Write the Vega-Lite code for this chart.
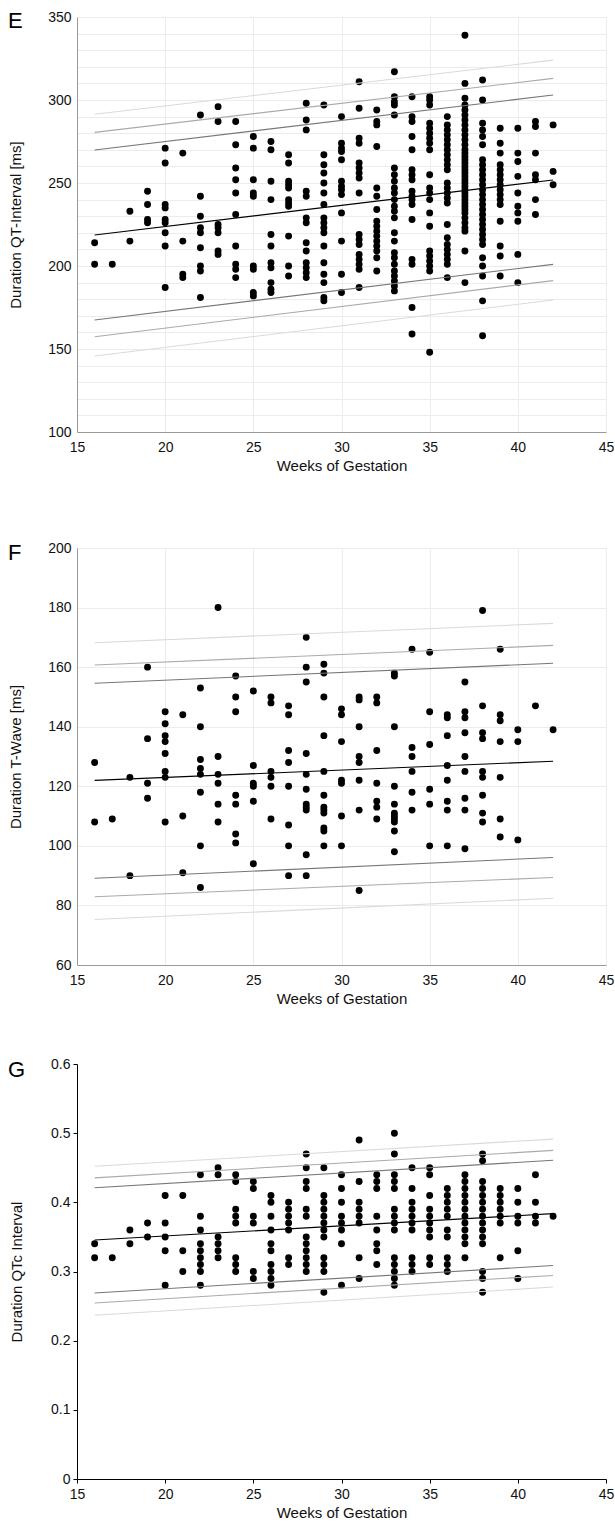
{
"$schema":"https://vega.github.io/schema/vega-lite/v6.json",
"padding":{"left":8,"top":9,"right":0,"bottom":0},
"background":"#ffffff",
"config":{"view":{"stroke":null},"font":"Liberation Sans",
 "axis":{"labelFont":"Liberation Sans","titleFont":"Liberation Sans","labelFontSize":14,"titleFontSize":15,"titleFontWeight":"normal","labelColor":"#111","titleColor":"#111","labelOverlap":false,"labelFlush":false}},
"datasets":{
"qt":[
{"w":16,"v":214},{"w":16,"v":201},{"w":17,"v":201},{"w":18,"v":233},{"w":18,"v":215},
{"w":19,"v":245},{"w":19,"v":237},{"w":19,"v":228},{"w":19,"v":226},
{"w":20,"v":271},{"w":20,"v":262},{"w":20,"v":237},{"w":20,"v":235},{"w":20,"v":228},{"w":20,"v":226},{"w":20,"v":220},{"w":20,"v":212},{"w":20,"v":187},
{"w":21,"v":268},{"w":21,"v":215},{"w":21,"v":195},{"w":21,"v":193},
{"w":22,"v":291},{"w":22,"v":242},{"w":22,"v":230},{"w":22,"v":223},{"w":22,"v":220},{"w":22,"v":211},{"w":22,"v":200},{"w":22,"v":197},{"w":22,"v":181},
{"w":23,"v":296},{"w":23,"v":287},{"w":23,"v":225},{"w":23,"v":223},{"w":23,"v":220},{"w":23,"v":209},{"w":23,"v":207},
{"w":24,"v":287},{"w":24,"v":273},{"w":24,"v":259},{"w":24,"v":252},{"w":24,"v":244},{"w":24,"v":231},{"w":24,"v":212},{"w":24,"v":201},{"w":24,"v":198},{"w":24,"v":193},
{"w":25,"v":278},{"w":25,"v":271},{"w":25,"v":252},{"w":25,"v":244},{"w":25,"v":242},{"w":25,"v":200},{"w":25,"v":198},{"w":25,"v":184},{"w":25,"v":182},
{"w":26,"v":275},{"w":26,"v":270},{"w":26,"v":251},{"w":26,"v":240},{"w":26,"v":219},{"w":26,"v":212},{"w":26,"v":202},{"w":26,"v":199},{"w":26,"v":190},{"w":26,"v":186},{"w":26,"v":184},
{"w":27,"v":267},{"w":27,"v":262},{"w":27,"v":251},{"w":27,"v":249},{"w":27,"v":247},{"w":27,"v":240},{"w":27,"v":238},{"w":27,"v":236},{"w":27,"v":218},{"w":27,"v":200},{"w":27,"v":194},
{"w":28,"v":298},{"w":28,"v":288},{"w":28,"v":282},{"w":28,"v":245},{"w":28,"v":242},{"w":28,"v":229},{"w":28,"v":226},{"w":28,"v":214},{"w":28,"v":209},{"w":28,"v":202},{"w":28,"v":199},{"w":28,"v":196},{"w":28,"v":193},
{"w":29,"v":297},{"w":29,"v":267},{"w":29,"v":261},{"w":29,"v":256},{"w":29,"v":250},{"w":29,"v":244},{"w":29,"v":237},{"w":29,"v":229},{"w":29,"v":226},{"w":29,"v":223},{"w":29,"v":220},{"w":29,"v":212},{"w":29,"v":202},{"w":29,"v":195},{"w":29,"v":190},{"w":29,"v":181},{"w":29,"v":179},
{"w":30,"v":290},{"w":30,"v":274},{"w":30,"v":271},{"w":30,"v":269},{"w":30,"v":264},{"w":30,"v":251},{"w":30,"v":248},{"w":30,"v":246},{"w":30,"v":243},{"w":30,"v":232},{"w":30,"v":215},{"w":30,"v":195},{"w":30,"v":184},
{"w":31,"v":311},{"w":31,"v":295},{"w":31,"v":277},{"w":31,"v":274},{"w":31,"v":262},{"w":31,"v":259},{"w":31,"v":256},{"w":31,"v":253},{"w":31,"v":244},{"w":31,"v":219},{"w":31,"v":216},{"w":31,"v":213},{"w":31,"v":207},{"w":31,"v":204},{"w":31,"v":201},{"w":31,"v":198},{"w":31,"v":187},
{"w":32,"v":294},{"w":32,"v":287},{"w":32,"v":285},{"w":32,"v":272},{"w":32,"v":247},{"w":32,"v":242},{"w":32,"v":234},{"w":32,"v":227},{"w":32,"v":224},{"w":32,"v":221},{"w":32,"v":218},{"w":32,"v":215},{"w":32,"v":212},{"w":32,"v":209},{"w":32,"v":205},{"w":32,"v":197},
{"w":33,"v":317},{"w":33,"v":302},{"w":33,"v":299},{"w":33,"v":297},{"w":33,"v":291},{"w":33,"v":259},{"w":33,"v":255},{"w":33,"v":251},{"w":33,"v":247},{"w":33,"v":244},{"w":33,"v":240},{"w":33,"v":236},{"w":33,"v":233},{"w":33,"v":229},{"w":33,"v":220},{"w":33,"v":215},{"w":33,"v":208},{"w":33,"v":205},{"w":33,"v":201},{"w":33,"v":197},{"w":33,"v":194},{"w":33,"v":191},{"w":33,"v":188},{"w":33,"v":185},
{"w":34,"v":302},{"w":34,"v":290},{"w":34,"v":287},{"w":34,"v":278},{"w":34,"v":270},{"w":34,"v":258},{"w":34,"v":255},{"w":34,"v":252},{"w":34,"v":245},{"w":34,"v":242},{"w":34,"v":240},{"w":34,"v":237},{"w":34,"v":228},{"w":34,"v":204},{"w":34,"v":201},{"w":34,"v":175},{"w":34,"v":159},
{"w":35,"v":302},{"w":35,"v":300},{"w":35,"v":297},{"w":35,"v":286},{"w":35,"v":283},{"w":35,"v":280},{"w":35,"v":277},{"w":35,"v":274},{"w":35,"v":270},{"w":35,"v":255},{"w":35,"v":247},{"w":35,"v":244},{"w":35,"v":240},{"w":35,"v":232},{"w":35,"v":224},{"w":35,"v":209},{"w":35,"v":206},{"w":35,"v":203},{"w":35,"v":200},{"w":35,"v":197},{"w":35,"v":148},
{"w":36,"v":290},{"w":36,"v":285},{"w":36,"v":282},{"w":36,"v":279},{"w":36,"v":276},{"w":36,"v":273},{"w":36,"v":270},{"w":36,"v":267},{"w":36,"v":264},{"w":36,"v":261},{"w":36,"v":258},{"w":36,"v":250},{"w":36,"v":247},{"w":36,"v":244},{"w":36,"v":241},{"w":36,"v":238},{"w":36,"v":225},{"w":36,"v":217},{"w":36,"v":213},{"w":36,"v":210},{"w":36,"v":207},{"w":36,"v":204},{"w":36,"v":201},{"w":36,"v":193},
{"w":37,"v":339},{"w":37,"v":310},{"w":37,"v":301},{"w":37,"v":297},{"w":37,"v":294},{"w":37,"v":291},{"w":37,"v":288},{"w":37,"v":285},{"w":37,"v":282},{"w":37,"v":279},{"w":37,"v":276},{"w":37,"v":273},{"w":37,"v":270},{"w":37,"v":268},{"w":37,"v":266},{"w":37,"v":264},{"w":37,"v":262},{"w":37,"v":260},{"w":37,"v":258},{"w":37,"v":256},{"w":37,"v":254},{"w":37,"v":252},{"w":37,"v":250},{"w":37,"v":248},{"w":37,"v":246},{"w":37,"v":244},{"w":37,"v":242},{"w":37,"v":240},{"w":37,"v":238},{"w":37,"v":236},{"w":37,"v":234},{"w":37,"v":232},{"w":37,"v":229},{"w":37,"v":226},{"w":37,"v":223},{"w":37,"v":221},{"w":37,"v":209},{"w":37,"v":190},
{"w":38,"v":312},{"w":38,"v":300},{"w":38,"v":286},{"w":38,"v":282},{"w":38,"v":278},{"w":38,"v":273},{"w":38,"v":264},{"w":38,"v":261},{"w":38,"v":258},{"w":38,"v":255},{"w":38,"v":252},{"w":38,"v":249},{"w":38,"v":246},{"w":38,"v":243},{"w":38,"v":240},{"w":38,"v":237},{"w":38,"v":234},{"w":38,"v":231},{"w":38,"v":228},{"w":38,"v":225},{"w":38,"v":222},{"w":38,"v":219},{"w":38,"v":216},{"w":38,"v":213},{"w":38,"v":205},{"w":38,"v":200},{"w":38,"v":194},{"w":38,"v":179},{"w":38,"v":158},
{"w":39,"v":283},{"w":39,"v":274},{"w":39,"v":268},{"w":39,"v":261},{"w":39,"v":258},{"w":39,"v":255},{"w":39,"v":252},{"w":39,"v":249},{"w":39,"v":246},{"w":39,"v":243},{"w":39,"v":240},{"w":39,"v":237},{"w":39,"v":227},{"w":39,"v":212},{"w":39,"v":206},{"w":39,"v":194},
{"w":40,"v":283},{"w":40,"v":268},{"w":40,"v":263},{"w":40,"v":254},{"w":40,"v":244},{"w":40,"v":236},{"w":40,"v":232},{"w":40,"v":227},{"w":40,"v":207},{"w":40,"v":190},
{"w":41,"v":287},{"w":41,"v":284},{"w":41,"v":268},{"w":41,"v":255},{"w":41,"v":252},{"w":41,"v":240},{"w":41,"v":231},
{"w":42,"v":285},{"w":42,"v":257},{"w":42,"v":249}
],
"tw":[
{"w":16,"v":128},{"w":16,"v":108},{"w":17,"v":109},{"w":18,"v":123},{"w":18,"v":90},
{"w":19,"v":160},{"w":19,"v":136},{"w":19,"v":121},{"w":19,"v":116},
{"w":20,"v":145},{"w":20,"v":141},{"w":20,"v":137},{"w":20,"v":135},{"w":20,"v":131},{"w":20,"v":125},{"w":20,"v":123},{"w":20,"v":108},
{"w":21,"v":144},{"w":21,"v":110},{"w":21,"v":91},
{"w":22,"v":153},{"w":22,"v":140},{"w":22,"v":129},{"w":22,"v":126},{"w":22,"v":124},{"w":22,"v":118},{"w":22,"v":100},{"w":22,"v":86},
{"w":23,"v":180},{"w":23,"v":130},{"w":23,"v":124},{"w":23,"v":121},{"w":23,"v":114},{"w":23,"v":108},
{"w":24,"v":157},{"w":24,"v":150},{"w":24,"v":145},{"w":24,"v":117},{"w":24,"v":114},{"w":24,"v":104},{"w":24,"v":101},
{"w":25,"v":152},{"w":25,"v":127},{"w":25,"v":121},{"w":25,"v":120},{"w":25,"v":115},{"w":25,"v":94},
{"w":26,"v":150},{"w":26,"v":148},{"w":26,"v":125},{"w":26,"v":123},{"w":26,"v":120},{"w":26,"v":109},
{"w":27,"v":147},{"w":27,"v":144},{"w":27,"v":132},{"w":27,"v":128},{"w":27,"v":120},{"w":27,"v":107},{"w":27,"v":100},{"w":27,"v":90},
{"w":28,"v":170},{"w":28,"v":160},{"w":28,"v":155},{"w":28,"v":131},{"w":28,"v":124},{"w":28,"v":119},{"w":28,"v":114},{"w":28,"v":113},{"w":28,"v":112},{"w":28,"v":97},{"w":28,"v":90},
{"w":29,"v":161},{"w":29,"v":158},{"w":29,"v":150},{"w":29,"v":137},{"w":29,"v":125},{"w":29,"v":117},{"w":29,"v":113},{"w":29,"v":112},{"w":29,"v":111},{"w":29,"v":106},{"w":29,"v":105},{"w":29,"v":100},
{"w":30,"v":146},{"w":30,"v":144},{"w":30,"v":135},{"w":30,"v":122},{"w":30,"v":121},{"w":30,"v":110},{"w":30,"v":100},
{"w":31,"v":150},{"w":31,"v":149},{"w":31,"v":140},{"w":31,"v":130},{"w":31,"v":128},{"w":31,"v":122},{"w":31,"v":112},{"w":31,"v":85},
{"w":32,"v":150},{"w":32,"v":148},{"w":32,"v":132},{"w":32,"v":121},{"w":32,"v":115},{"w":32,"v":113},{"w":32,"v":109},
{"w":33,"v":158},{"w":33,"v":157},{"w":33,"v":140},{"w":33,"v":120},{"w":33,"v":114},{"w":33,"v":111},{"w":33,"v":110},{"w":33,"v":109},{"w":33,"v":108},{"w":33,"v":105},{"w":33,"v":98},
{"w":34,"v":166},{"w":34,"v":133},{"w":34,"v":130},{"w":34,"v":125},{"w":34,"v":118},{"w":34,"v":112},
{"w":35,"v":165},{"w":35,"v":145},{"w":35,"v":134},{"w":35,"v":119},{"w":35,"v":114},{"w":35,"v":100},
{"w":36,"v":144},{"w":36,"v":143},{"w":36,"v":137},{"w":36,"v":127},{"w":36,"v":122},{"w":36,"v":115},{"w":36,"v":112},{"w":36,"v":100},
{"w":37,"v":155},{"w":37,"v":145},{"w":37,"v":143},{"w":37,"v":138},{"w":37,"v":130},{"w":37,"v":125},{"w":37,"v":116},{"w":37,"v":112},{"w":37,"v":99},
{"w":38,"v":179},{"w":38,"v":147},{"w":38,"v":138},{"w":38,"v":136},{"w":38,"v":125},{"w":38,"v":123},{"w":38,"v":117},{"w":38,"v":111},{"w":38,"v":108},
{"w":39,"v":166},{"w":39,"v":144},{"w":39,"v":142},{"w":39,"v":135},{"w":39,"v":123},{"w":39,"v":109},{"w":39,"v":103},
{"w":40,"v":139},{"w":40,"v":135},{"w":40,"v":102},{"w":41,"v":147},{"w":42,"v":139}
],
"qtc":[
{"w":16,"v":0.34},{"w":16,"v":0.32},{"w":17,"v":0.32},{"w":18,"v":0.36},{"w":18,"v":0.34},{"w":19,"v":0.37},{"w":19,"v":0.35},
{"w":20,"v":0.41},{"w":20,"v":0.37},{"w":20,"v":0.35},{"w":20,"v":0.33},{"w":20,"v":0.28},
{"w":21,"v":0.41},{"w":21,"v":0.33},{"w":21,"v":0.30},
{"w":22,"v":0.44},{"w":22,"v":0.38},{"w":22,"v":0.36},{"w":22,"v":0.34},{"w":22,"v":0.33},{"w":22,"v":0.32},{"w":22,"v":0.31},{"w":22,"v":0.30},{"w":22,"v":0.28},
{"w":23,"v":0.45},{"w":23,"v":0.44},{"w":23,"v":0.35},{"w":23,"v":0.34},{"w":23,"v":0.33},{"w":23,"v":0.32},
{"w":24,"v":0.44},{"w":24,"v":0.43},{"w":24,"v":0.39},{"w":24,"v":0.38},{"w":24,"v":0.37},{"w":24,"v":0.32},{"w":24,"v":0.31},{"w":24,"v":0.30},
{"w":25,"v":0.43},{"w":25,"v":0.42},{"w":25,"v":0.38},{"w":25,"v":0.37},{"w":25,"v":0.30},{"w":25,"v":0.29},
{"w":26,"v":0.41},{"w":26,"v":0.40},{"w":26,"v":0.38},{"w":26,"v":0.36},{"w":26,"v":0.34},{"w":26,"v":0.33},{"w":26,"v":0.31},{"w":26,"v":0.30},{"w":26,"v":0.29},{"w":26,"v":0.28},
{"w":27,"v":0.40},{"w":27,"v":0.39},{"w":27,"v":0.38},{"w":27,"v":0.37},{"w":27,"v":0.36},{"w":27,"v":0.32},{"w":27,"v":0.31},
{"w":28,"v":0.47},{"w":28,"v":0.45},{"w":28,"v":0.43},{"w":28,"v":0.42},{"w":28,"v":0.39},{"w":28,"v":0.38},{"w":28,"v":0.35},{"w":28,"v":0.34},{"w":28,"v":0.33},{"w":28,"v":0.32},{"w":28,"v":0.31},{"w":28,"v":0.30},
{"w":29,"v":0.45},{"w":29,"v":0.41},{"w":29,"v":0.40},{"w":29,"v":0.39},{"w":29,"v":0.38},{"w":29,"v":0.37},{"w":29,"v":0.36},{"w":29,"v":0.35},{"w":29,"v":0.32},{"w":29,"v":0.31},{"w":29,"v":0.30},{"w":29,"v":0.27},
{"w":30,"v":0.44},{"w":30,"v":0.42},{"w":30,"v":0.40},{"w":30,"v":0.38},{"w":30,"v":0.37},{"w":30,"v":0.36},{"w":30,"v":0.34},{"w":30,"v":0.28},
{"w":31,"v":0.49},{"w":31,"v":0.43},{"w":31,"v":0.40},{"w":31,"v":0.39},{"w":31,"v":0.38},{"w":31,"v":0.37},{"w":31,"v":0.32},{"w":31,"v":0.29},
{"w":32,"v":0.44},{"w":32,"v":0.43},{"w":32,"v":0.42},{"w":32,"v":0.38},{"w":32,"v":0.36},{"w":32,"v":0.34},{"w":32,"v":0.33},{"w":32,"v":0.31},
{"w":33,"v":0.50},{"w":33,"v":0.47},{"w":33,"v":0.44},{"w":33,"v":0.43},{"w":33,"v":0.42},{"w":33,"v":0.39},{"w":33,"v":0.38},{"w":33,"v":0.37},{"w":33,"v":0.36},{"w":33,"v":0.32},{"w":33,"v":0.31},{"w":33,"v":0.30},{"w":33,"v":0.29},{"w":33,"v":0.28},
{"w":34,"v":0.45},{"w":34,"v":0.42},{"w":34,"v":0.40},{"w":34,"v":0.39},{"w":34,"v":0.38},{"w":34,"v":0.37},{"w":34,"v":0.36},{"w":34,"v":0.32},{"w":34,"v":0.31},{"w":34,"v":0.30},
{"w":35,"v":0.45},{"w":35,"v":0.44},{"w":35,"v":0.41},{"w":35,"v":0.39},{"w":35,"v":0.38},{"w":35,"v":0.37},{"w":35,"v":0.36},{"w":35,"v":0.35},{"w":35,"v":0.32},{"w":35,"v":0.31},
{"w":36,"v":0.42},{"w":36,"v":0.41},{"w":36,"v":0.40},{"w":36,"v":0.39},{"w":36,"v":0.38},{"w":36,"v":0.36},{"w":36,"v":0.35},{"w":36,"v":0.32},{"w":36,"v":0.31},{"w":36,"v":0.30},
{"w":37,"v":0.44},{"w":37,"v":0.43},{"w":37,"v":0.42},{"w":37,"v":0.41},{"w":37,"v":0.40},{"w":37,"v":0.39},{"w":37,"v":0.38},{"w":37,"v":0.37},{"w":37,"v":0.36},{"w":37,"v":0.35},{"w":37,"v":0.34},{"w":37,"v":0.32},
{"w":38,"v":0.47},{"w":38,"v":0.46},{"w":38,"v":0.43},{"w":38,"v":0.42},{"w":38,"v":0.41},{"w":38,"v":0.40},{"w":38,"v":0.39},{"w":38,"v":0.38},{"w":38,"v":0.37},{"w":38,"v":0.36},{"w":38,"v":0.35},{"w":38,"v":0.34},{"w":38,"v":0.30},{"w":38,"v":0.29},{"w":38,"v":0.27},
{"w":39,"v":0.42},{"w":39,"v":0.41},{"w":39,"v":0.40},{"w":39,"v":0.39},{"w":39,"v":0.38},{"w":39,"v":0.37},{"w":39,"v":0.32},
{"w":40,"v":0.42},{"w":40,"v":0.40},{"w":40,"v":0.38},{"w":40,"v":0.37},{"w":40,"v":0.33},{"w":40,"v":0.29},
{"w":41,"v":0.44},{"w":41,"v":0.40},{"w":41,"v":0.38},{"w":41,"v":0.37},{"w":42,"v":0.38}
],
"lE":[
{"s":"m","b":"m","w":16,"v":218.7},{"s":"m","b":"m","w":42,"v":251.8},
{"s":"u1","b":"1","w":16,"v":269.9},{"s":"u1","b":"1","w":42,"v":303},
{"s":"u2","b":"2","w":16,"v":280.5},{"s":"u2","b":"2","w":42,"v":313},
{"s":"u3","b":"3","w":16,"v":291.4},{"s":"u3","b":"3","w":42,"v":324},
{"s":"l1","b":"1","w":16,"v":167.5},{"s":"l1","b":"1","w":42,"v":201},
{"s":"l2","b":"2","w":16,"v":157.4},{"s":"l2","b":"2","w":42,"v":191.2},
{"s":"l3","b":"3","w":16,"v":145.8},{"s":"l3","b":"3","w":42,"v":179.5}
],
"lF":[
{"s":"m","b":"m","w":16,"v":122},{"s":"m","b":"m","w":42,"v":128.4},
{"s":"u1","b":"1","w":16,"v":154.6},{"s":"u1","b":"1","w":42,"v":161.3},
{"s":"u2","b":"2","w":16,"v":160.7},{"s":"u2","b":"2","w":42,"v":167.3},
{"s":"u3","b":"3","w":16,"v":168.2},{"s":"u3","b":"3","w":42,"v":174.7},
{"s":"l1","b":"1","w":16,"v":89.1},{"s":"l1","b":"1","w":42,"v":96.1},
{"s":"l2","b":"2","w":16,"v":82.9},{"s":"l2","b":"2","w":42,"v":89.4},
{"s":"l3","b":"3","w":16,"v":75.3},{"s":"l3","b":"3","w":42,"v":82.4}
],
"lG":[
{"s":"m","b":"m","w":16,"v":0.3455},{"s":"m","b":"m","w":42,"v":0.3837},
{"s":"u1","b":"1","w":16,"v":0.421},{"s":"u1","b":"1","w":42,"v":0.4608},
{"s":"u2","b":"2","w":16,"v":0.4354},{"s":"u2","b":"2","w":42,"v":0.4751},
{"s":"u3","b":"3","w":16,"v":0.4522},{"s":"u3","b":"3","w":42,"v":0.4914},
{"s":"l1","b":"1","w":16,"v":0.269},{"s":"l1","b":"1","w":42,"v":0.3086},
{"s":"l2","b":"2","w":16,"v":0.2545},{"s":"l2","b":"2","w":42,"v":0.2943},
{"s":"l3","b":"3","w":16,"v":0.2368},{"s":"l3","b":"3","w":42,"v":0.2775}
]
},
"spacing":51,
"vconcat":[
{"spacing":68,"vconcat":[
{"width":529,"height":415,
 "resolve":{"axis":{"y":"independent"}},
 "layer":[
 {"data":{"name":"qt"},"mark":{"type":"circle","size":48,"color":"#000","opacity":1},
  "encoding":{
   "x":{"field":"w","type":"quantitative","scale":{"domain":[15,45],"nice":false},"axis":{"values":[15,20,25,30,35,40,45],"title":"Weeks of Gestation","grid":true,"gridColor":"#ececec","domainColor":"#999","ticks":false,"labelPadding":8,"titlePadding":4}},
   "y":{"field":"v","type":"quantitative","scale":{"domain":[100,350],"nice":false},"axis":{"values":[100,150,200,250,300,350],"title":"Duration QT-Interval [ms]","grid":false,"domainColor":"#999","ticks":false,"labelPadding":6,"titlePadding":24}}}},
 {"data":{"name":"lE"},"mark":{"type":"line","strokeWidth":1.1},
  "encoding":{"x":{"field":"w","type":"quantitative","scale":{"domain":[15,45],"nice":false}},
   "y":{"field":"v","type":"quantitative","scale":{"domain":[100,350],"nice":false},"axis":{"orient":"right","values":[100,110,120,130,140,150,160,170,180,190,200,210,220,230,240,250,260,270,280,290,300,310,320,330,340,350],"grid":true,"gridColor":"#ececec","labels":false,"ticks":false,"domain":false,"title":null}},
   "detail":{"field":"s"},
   "color":{"field":"b","type":"nominal","scale":{"domain":["m","1","2","3"],"range":["#000000","#777777","#aaaaaa","#dadada"]},"legend":null}}},
 {"data":{"values":[{"t":"E"}]},"mark":{"type":"text","fontSize":22,"font":"Liberation Sans","color":"#000","align":"left","baseline":"alphabetic"},
  "encoding":{"text":{"field":"t"},"x":{"datum":11.09,"type":"quantitative","scale":{"domain":[15,45],"nice":false}},"y":{"datum":343.4,"type":"quantitative","scale":{"domain":[100,350],"nice":false},"axis":null}}}
 ]},
{"width":529,"height":417,
 "layer":[
 {"data":{"name":"tw"},"mark":{"type":"circle","size":48,"color":"#000","opacity":1},
  "encoding":{
   "x":{"field":"w","type":"quantitative","scale":{"domain":[15,45],"nice":false},"axis":{"values":[15,20,25,30,35,40,45],"title":"Weeks of Gestation","grid":true,"gridColor":"#ececec","domainColor":"#999","ticks":false,"labelPadding":8,"titlePadding":4}},
   "y":{"field":"v","type":"quantitative","scale":{"domain":[60,200],"nice":false},"axis":{"values":[60,70,80,90,100,110,120,130,140,150,160,170,180,190,200],"labelExpr":"datum.value % 20 === 0 ? datum.label : ''","labelOverlap":false,"title":"Duration T-Wave [ms]","grid":true,"gridColor":"#ececec","domainColor":"#999","ticks":false,"labelPadding":6,"titlePadding":24}}}},
 {"data":{"name":"lF"},"mark":{"type":"line","strokeWidth":1.1},
  "encoding":{"x":{"field":"w","type":"quantitative","scale":{"domain":[15,45],"nice":false}},"y":{"field":"v","type":"quantitative","scale":{"domain":[60,200],"nice":false}},"detail":{"field":"s"},
   "color":{"field":"b","type":"nominal","scale":{"domain":["m","1","2","3"],"range":["#000000","#777777","#aaaaaa","#dadada"]},"legend":null}}},
 {"data":{"values":[{"t":"F"}]},"mark":{"type":"text","fontSize":22,"font":"Liberation Sans","color":"#000","align":"left","baseline":"alphabetic"},
  "encoding":{"text":{"field":"t"},"x":{"datum":11.09,"type":"quantitative","scale":{"domain":[15,45],"nice":false}},"y":{"datum":196,"type":"quantitative","scale":{"domain":[60,200],"nice":false}}}}
 ]}
]},
{"width":529,"height":415,
 "layer":[
 {"data":{"name":"qtc"},"mark":{"type":"circle","size":48,"color":"#000","opacity":1},
  "encoding":{
   "x":{"field":"w","type":"quantitative","scale":{"domain":[15,45],"nice":false},"axis":{"values":[15,20,25,30,35,40,45],"title":"Weeks of Gestation","grid":false,"domainColor":"#000","tickColor":"#000","tickSize":4,"labelPadding":4,"titlePadding":4}},
   "y":{"field":"v","type":"quantitative","scale":{"domain":[0,0.6],"nice":false},"axis":{"values":[0,0.1,0.2,0.3,0.4,0.5,0.6],"format":"~g","title":"Duration QTc Interval","grid":false,"domainColor":"#000","tickColor":"#000","tickSize":4,"labelPadding":3,"titlePadding":26}}}},
 {"data":{"name":"lG"},"mark":{"type":"line","strokeWidth":1.1},
  "encoding":{"x":{"field":"w","type":"quantitative","scale":{"domain":[15,45],"nice":false}},"y":{"field":"v","type":"quantitative","scale":{"domain":[0,0.6],"nice":false}},"detail":{"field":"s"},
   "color":{"field":"b","type":"nominal","scale":{"domain":["m","1","2","3"],"range":["#000000","#777777","#aaaaaa","#dadada"]},"legend":null}}},
 {"data":{"values":[{"t":"G"}]},"mark":{"type":"text","fontSize":22,"font":"Liberation Sans","color":"#000","align":"left","baseline":"alphabetic"},
  "encoding":{"text":{"field":"t"},"x":{"datum":11.09,"type":"quantitative","scale":{"domain":[15,45],"nice":false}},"y":{"datum":0.581,"type":"quantitative","scale":{"domain":[0,0.6],"nice":false}}}}
 ]}
]
}
